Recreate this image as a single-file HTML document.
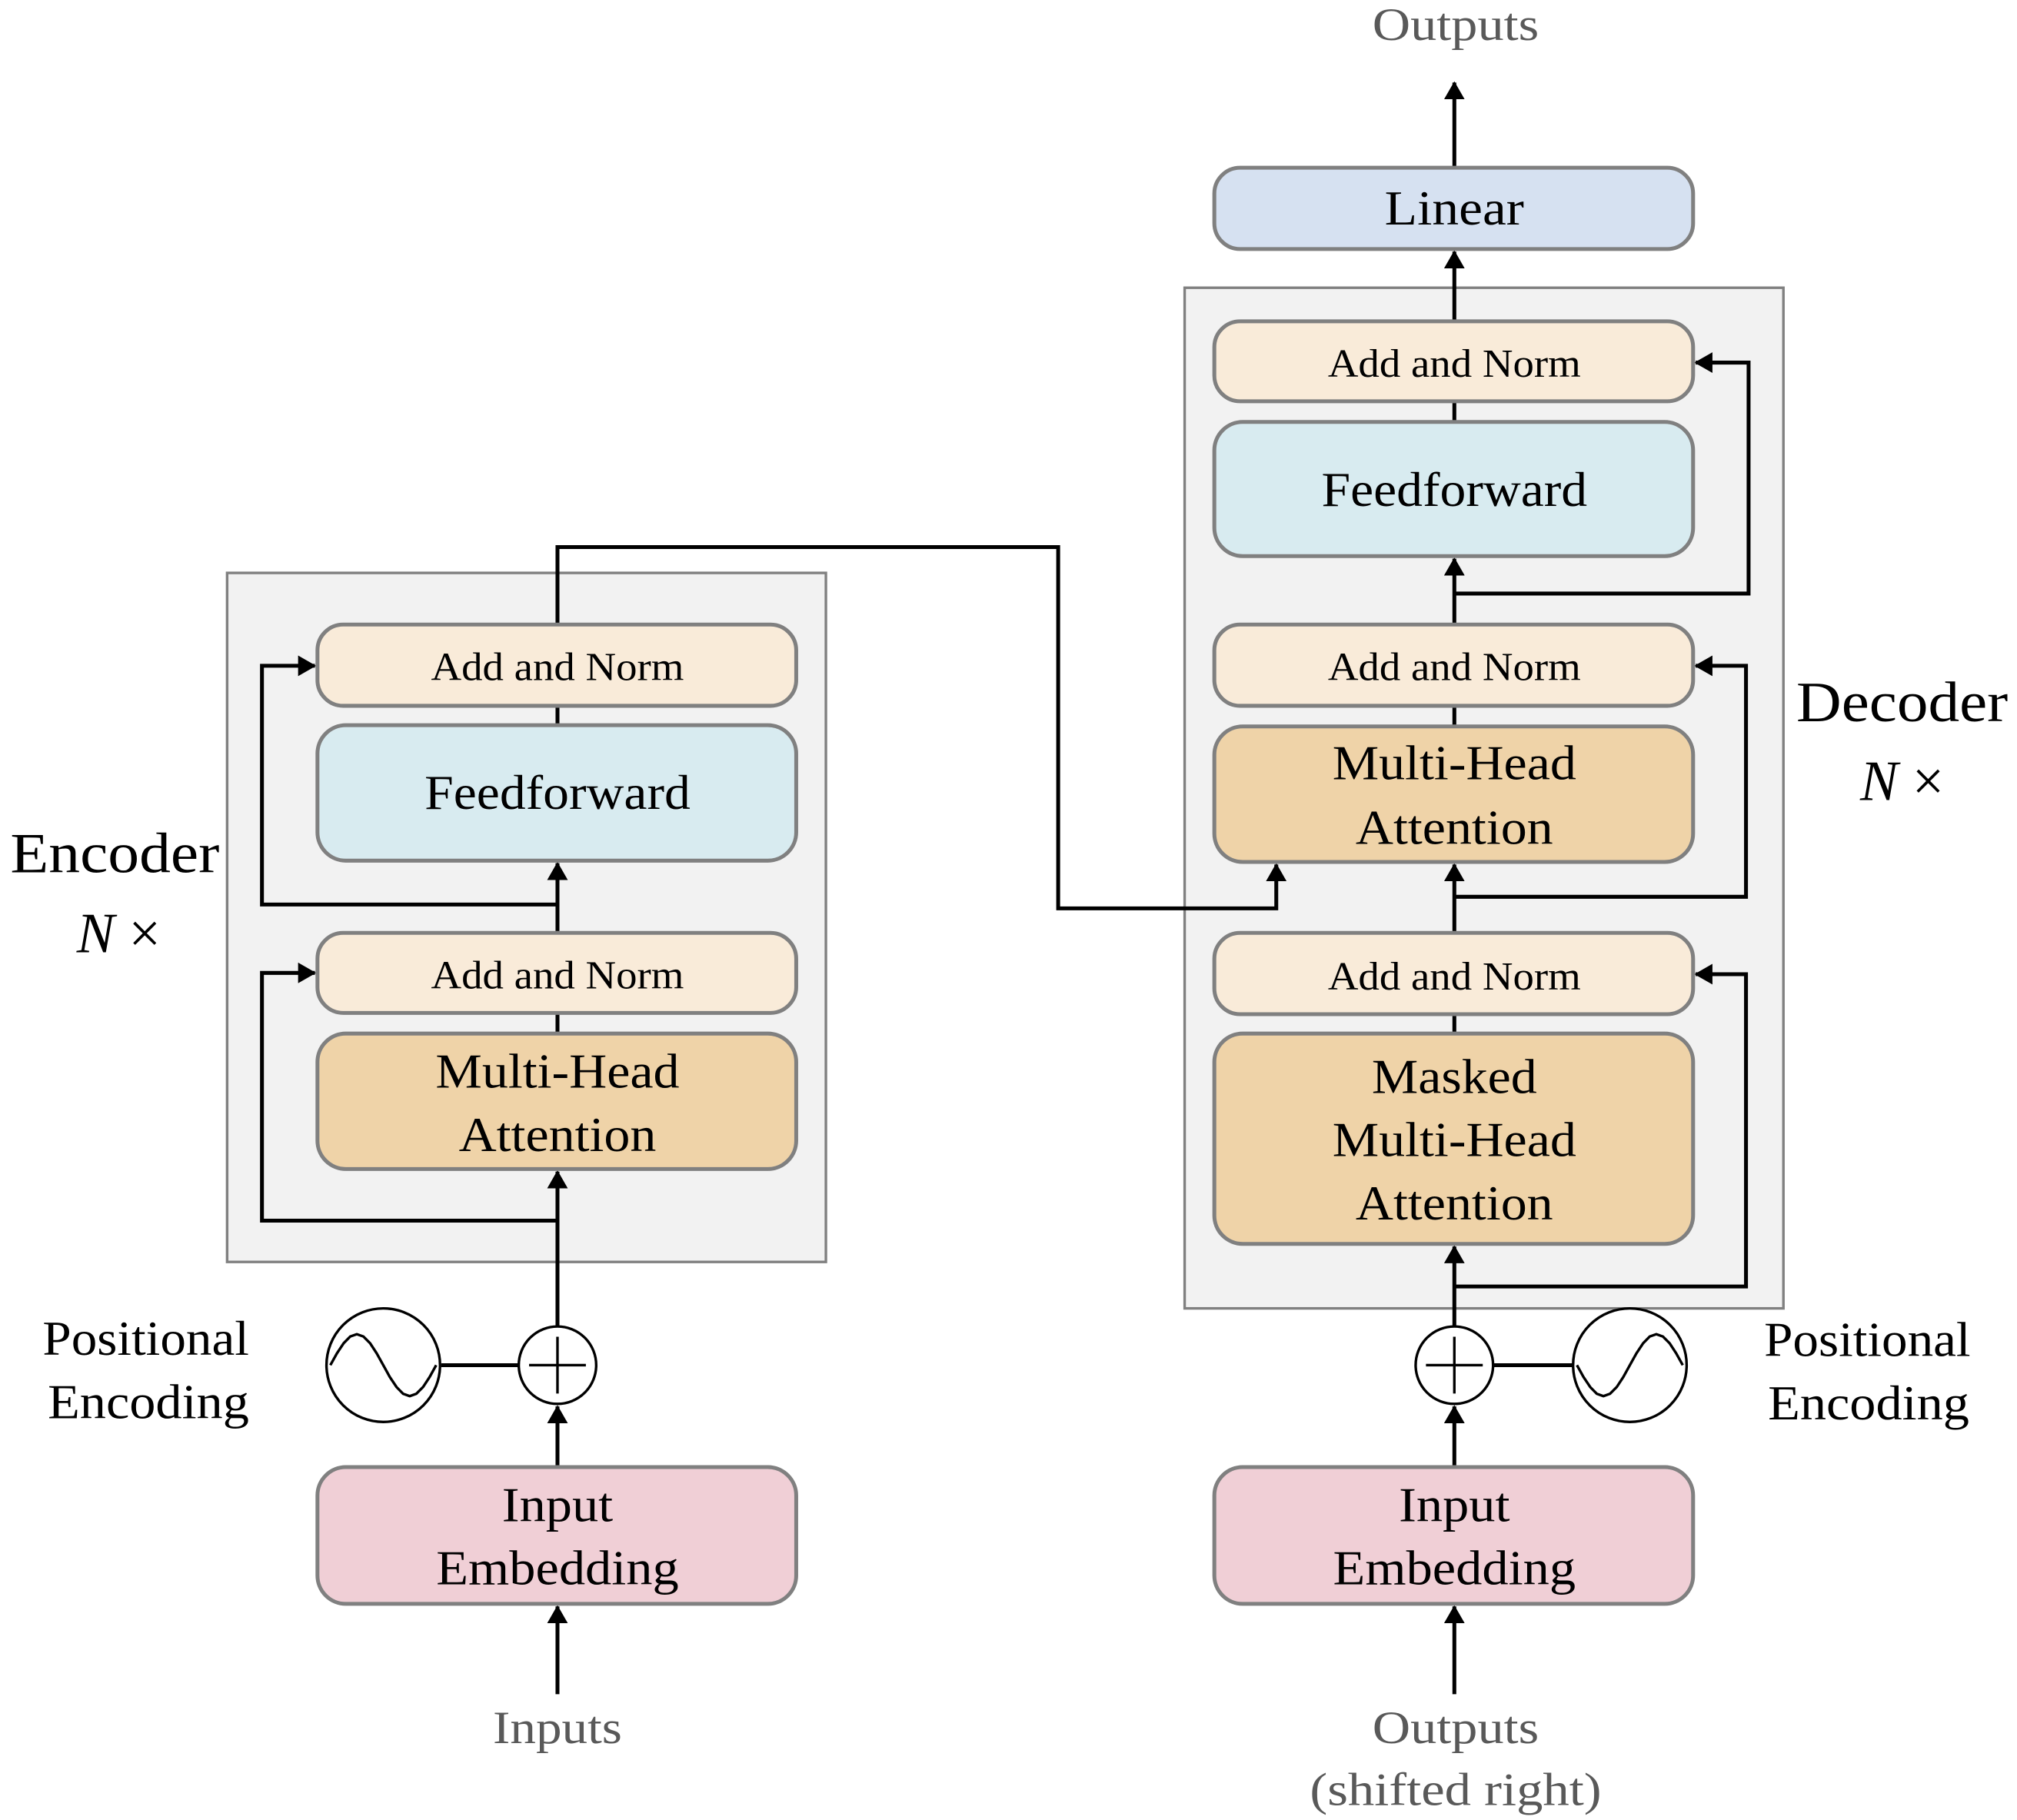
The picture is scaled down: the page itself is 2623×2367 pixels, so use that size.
<!DOCTYPE html>
<html><head><meta charset="utf-8"><style>html,body{margin:0;padding:0;background:#fff}svg{display:block}text{font-family:"Liberation Serif","Times New Roman",serif}</style></head>
<body>
<svg width="2623" height="2367" viewBox="0 0 1563 1410.5" preserveAspectRatio="none" xmlns="http://www.w3.org/2000/svg">
<defs>
<marker id="b" markerWidth="14" markerHeight="16" refX="13" refY="8" orient="auto" markerUnits="userSpaceOnUse" viewBox="0 0 14 16"><path d="M0,0 L14,8 L0,16 z" fill="#000"/></marker>
</defs>
<rect x="176" y="444" width="464" height="534" fill="#f2f2f2" stroke="#808080" stroke-width="2"/>
<rect x="918" y="223" width="464" height="791" fill="#f2f2f2" stroke="#808080" stroke-width="2"/>

<g stroke="#000" stroke-width="3" fill="none">
<line x1="432" y1="1313" x2="432" y2="1245" marker-end="url(#b)"/>
<line x1="432" y1="1137" x2="432" y2="1090" marker-end="url(#b)"/>
<line x1="432" y1="1028" x2="432" y2="908" marker-end="url(#b)"/>
<polyline points="432,946 203,946 203,754 244,754" marker-end="url(#b)"/>
<line x1="432" y1="801" x2="432" y2="785"/>
<line x1="432" y1="723" x2="432" y2="669" marker-end="url(#b)"/>
<polyline points="432,701 203,701 203,516 244,516" marker-end="url(#b)"/>
<line x1="432" y1="562" x2="432" y2="547"/>
<polyline points="432,484 432,424 820,424 820,704 989,704 989,670" marker-end="url(#b)"/>
<line x1="342" y1="1058" x2="402" y2="1058"/>
<line x1="1127" y1="1313" x2="1127" y2="1245" marker-end="url(#b)"/>
<line x1="1127" y1="1137" x2="1127" y2="1090" marker-end="url(#b)"/>
<line x1="1127" y1="1028" x2="1127" y2="966" marker-end="url(#b)"/>
<polyline points="1127,997 1353,997 1353,755 1314,755" marker-end="url(#b)"/>
<line x1="1127" y1="801" x2="1127" y2="786"/>
<line x1="1127" y1="723" x2="1127" y2="670" marker-end="url(#b)"/>
<polyline points="1127,695 1353,695 1353,516 1314,516" marker-end="url(#b)"/>
<line x1="1127" y1="563" x2="1127" y2="547"/>
<line x1="1127" y1="484" x2="1127" y2="433" marker-end="url(#b)"/>
<polyline points="1127,460 1355,460 1355,281 1314,281" marker-end="url(#b)"/>
<line x1="1127" y1="327" x2="1127" y2="311"/>
<line x1="1127" y1="249" x2="1127" y2="195" marker-end="url(#b)"/>
<line x1="1127" y1="130" x2="1127" y2="64" marker-end="url(#b)"/>
<line x1="1157" y1="1058" x2="1219" y2="1058"/>
</g>

<g stroke="#808080" stroke-width="3">
<rect x="246" y="484" width="371" height="63" rx="20" fill="#f9ebd9"/>
<rect x="246" y="562" width="371" height="105" rx="22" fill="#d8ebf0"/>
<rect x="246" y="723" width="371" height="62" rx="20" fill="#f9ebd9"/>
<rect x="246" y="801" width="371" height="105" rx="22" fill="#efd3a8"/>
<rect x="246" y="1137" width="371" height="106" rx="22" fill="#f0cfd6"/>
<rect x="941" y="130" width="371" height="63" rx="20" fill="#d6e1f1"/>
<rect x="941" y="249" width="371" height="62" rx="20" fill="#f9ebd9"/>
<rect x="941" y="327" width="371" height="104" rx="22" fill="#d8ebf0"/>
<rect x="941" y="484" width="371" height="63" rx="20" fill="#f9ebd9"/>
<rect x="941" y="563" width="371" height="105" rx="22" fill="#efd3a8"/>
<rect x="941" y="723" width="371" height="63" rx="20" fill="#f9ebd9"/>
<rect x="941" y="801" width="371" height="163" rx="22" fill="#efd3a8"/>
<rect x="941" y="1137" width="371" height="106" rx="22" fill="#f0cfd6"/>
</g>

<g stroke="#000" stroke-width="2" fill="#fff">
<circle cx="432" cy="1058" r="30"/>
<circle cx="297" cy="1058" r="44"/>
<circle cx="1127" cy="1058" r="30"/>
<circle cx="1263" cy="1058" r="44"/>
</g>
<g stroke="#000" stroke-width="2" fill="none" stroke-linejoin="round">
<path d="M432,1036 V1080 M410,1058 H454 M1127,1036 V1080 M1105,1058 H1149"/>
<polyline id="s" points="256,1058 261.1,1048.8 266.3,1041 271.4,1035.8 276.5,1034 281.6,1035.8 286.8,1041 291.9,1048.8 297,1058 302.1,1067.2 307.3,1075 312.4,1080.2 317.5,1082 322.6,1080.2 327.8,1075 332.9,1067.2 338,1058"/>
<polyline transform="translate(966,2116) scale(1,-1)" points="256,1058 261.1,1048.8 266.3,1041 271.4,1035.8 276.5,1034 281.6,1035.8 286.8,1041 291.9,1048.8 297,1058 302.1,1067.2 307.3,1075 312.4,1080.2 317.5,1082 322.6,1080.2 327.8,1075 332.9,1067.2 338,1058"/>
</g>

<g fill="#000" text-anchor="middle">
<text x="432" y="527" font-size="31" textLength="196" lengthAdjust="spacingAndGlyphs">Add and Norm</text>
<text x="432" y="627" font-size="38" textLength="206" lengthAdjust="spacingAndGlyphs">Feedforward</text>
<text x="432" y="766" font-size="31" textLength="196" lengthAdjust="spacingAndGlyphs">Add and Norm</text>
<text x="432" y="843" font-size="38" textLength="189" lengthAdjust="spacingAndGlyphs">Multi-Head</text>
<text x="432" y="892" font-size="38" textLength="153" lengthAdjust="spacingAndGlyphs">Attention</text>
<text x="432" y="1179" font-size="38" textLength="86" lengthAdjust="spacingAndGlyphs">Input</text>
<text x="432" y="1228" font-size="38" textLength="188" lengthAdjust="spacingAndGlyphs">Embedding</text>
<text x="1127" y="174" font-size="38" textLength="108" lengthAdjust="spacingAndGlyphs">Linear</text>
<text x="1127" y="292" font-size="31" textLength="196" lengthAdjust="spacingAndGlyphs">Add and Norm</text>
<text x="1127" y="392" font-size="38" textLength="206" lengthAdjust="spacingAndGlyphs">Feedforward</text>
<text x="1127" y="527" font-size="31" textLength="196" lengthAdjust="spacingAndGlyphs">Add and Norm</text>
<text x="1127" y="604" font-size="38" textLength="189" lengthAdjust="spacingAndGlyphs">Multi-Head</text>
<text x="1127" y="654" font-size="38" textLength="153" lengthAdjust="spacingAndGlyphs">Attention</text>
<text x="1127" y="767" font-size="31" textLength="196" lengthAdjust="spacingAndGlyphs">Add and Norm</text>
<text x="1127" y="847" font-size="38" textLength="128" lengthAdjust="spacingAndGlyphs">Masked</text>
<text x="1127" y="896" font-size="38" textLength="189" lengthAdjust="spacingAndGlyphs">Multi-Head</text>
<text x="1127" y="945" font-size="38" textLength="153" lengthAdjust="spacingAndGlyphs">Attention</text>
<text x="1127" y="1179" font-size="38" textLength="86" lengthAdjust="spacingAndGlyphs">Input</text>
<text x="1127" y="1228" font-size="38" textLength="188" lengthAdjust="spacingAndGlyphs">Embedding</text>
<text x="89" y="676" font-size="44" textLength="162" lengthAdjust="spacingAndGlyphs">Encoder</text>
<text x="92" y="738" font-size="44"><tspan font-style="italic">N</tspan> ×</text>
<text x="1474" y="559" font-size="44" textLength="164" lengthAdjust="spacingAndGlyphs">Decoder</text>
<text x="1474" y="620" font-size="44"><tspan font-style="italic">N</tspan> ×</text>
<text x="113" y="1050" font-size="38" textLength="160" lengthAdjust="spacingAndGlyphs">Positional</text>
<text x="115" y="1099" font-size="38" textLength="156" lengthAdjust="spacingAndGlyphs">Encoding</text>
<text x="1447" y="1051" font-size="38" textLength="160" lengthAdjust="spacingAndGlyphs">Positional</text>
<text x="1448" y="1100" font-size="38" textLength="156" lengthAdjust="spacingAndGlyphs">Encoding</text>
</g>
<g fill="#595959" text-anchor="middle">
<text x="1128" y="31" font-size="36" textLength="129" lengthAdjust="spacingAndGlyphs">Outputs</text>
<text x="432" y="1351" font-size="36" textLength="100" lengthAdjust="spacingAndGlyphs">Inputs</text>
<text x="1128" y="1351" font-size="36" textLength="129" lengthAdjust="spacingAndGlyphs">Outputs</text>
<text x="1128" y="1399" font-size="36" textLength="226" lengthAdjust="spacingAndGlyphs">(shifted right)</text>
</g>
</svg>
</body></html>
